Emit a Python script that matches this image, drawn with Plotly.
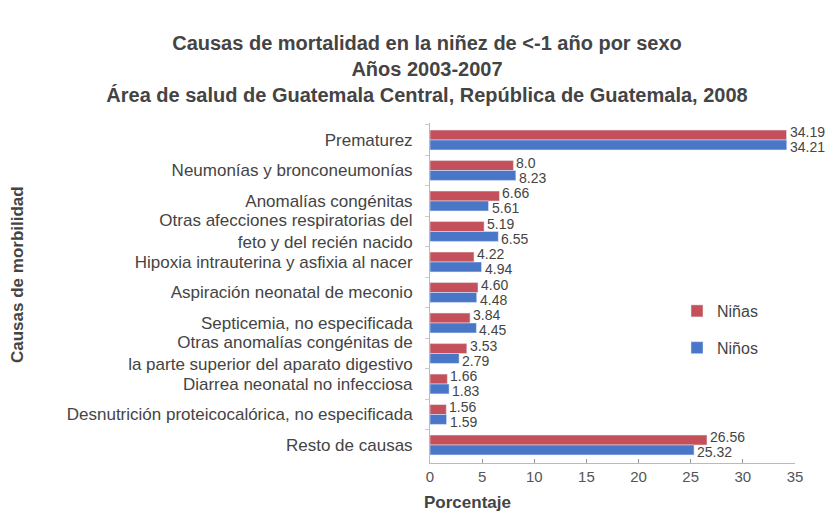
import plotly.graph_objects as go

categorias = [
    "Prematurez",
    "Neumonías y bronconeumonías",
    "Anomalías congénitas",
    "Otras afecciones respiratorias del<br>feto y del recién nacido",
    "Hipoxia intrauterina y asfixia al nacer",
    "Aspiración neonatal de meconio",
    "Septicemia, no especificada",
    "Otras anomalías congénitas de<br>la parte superior del aparato digestivo",
    "Diarrea neonatal no infecciosa",
    "Desnutrición proteicocalórica, no especificada",
    "Resto de causas",
]
ninas = [34.19, 8.0, 6.66, 5.19, 4.22, 4.60, 3.84, 3.53, 1.66, 1.56, 26.56]
ninas_txt = ["34.19", "8.0", "6.66", "5.19", "4.22", "4.60", "3.84", "3.53", "1.66", "1.56", "26.56"]
ninos = [34.21, 8.23, 5.61, 6.55, 4.94, 4.48, 4.45, 2.79, 1.83, 1.59, 25.32]
ninos_txt = ["34.21", "8.23", "5.61", "6.55", "4.94", "4.48", "4.45", "2.79", "1.83", "1.59", "25.32"]
x_ticks = [0, 5, 10, 15, 20, 25, 30, 35]

FONT = "Liberation Sans, Arial, sans-serif"
W, H = 835, 517
L, R, T, B = 430, 40, 123, 54
PW, PH = W - L - R, H - T - B

fig = go.Figure()
fig.add_trace(go.Bar(
    y=categorias, x=ninas, name="Niñas", orientation="h", legendgroup="a",
    marker=dict(color="#c4505c"),
))
fig.add_trace(go.Bar(
    y=categorias, x=ninos, name="Niños", orientation="h", legendgroup="b",
    marker=dict(color="#4a76c8"),
))

# value labels, placed through the axes at each bar's end
for cat, v, t in zip(categorias, ninas, ninas_txt):
    fig.add_annotation(x=v, y=cat, text=t, xref="x", yref="y", showarrow=False,
                       xanchor="left", yanchor="middle", xshift=1, yshift=8,
                       font=dict(size=14, color="#444444", family=FONT))
for cat, v, t in zip(categorias, ninos, ninos_txt):
    fig.add_annotation(x=v, y=cat, text=t, xref="x", yref="y", showarrow=False,
                       xanchor="left", yanchor="middle", xshift=1, yshift=-7,
                       font=dict(size=14, color="#444444", family=FONT))

fig.update_layout(
    width=W, height=H,
    paper_bgcolor="white", plot_bgcolor="white",
    barmode="group", bargap=0.35, bargroupgap=0.0,
    margin=dict(l=L, r=R, t=T, b=B, autoexpand=False),
    font=dict(family=FONT, color="#444444"),
    title=dict(
        text="<b>Causas de mortalidad en la niñez de <-1 año por sexo<br>Años 2003-2007<br>Área de salud de Guatemala Central, República de Guatemala, 2008</b>",
        x=427 / W, xanchor="center", xref="container",
        y=1 - 49.5 / H, yanchor="middle", yref="container",
        font=dict(size=20, color="#444444", family=FONT),
    ),
    showlegend=True,
    legend=dict(
        x=(677 - L) / PW, y=(H - B - 294) / PH, xanchor="left", yanchor="top",
        font=dict(size=16, color="#444444", family=FONT),
        tracegroupgap=13, bgcolor="rgba(0,0,0,0)",
    ),
    xaxis=dict(
        range=[0, 35], tickvals=x_ticks, ticktext=[str(v) for v in x_ticks],
        showgrid=False, zeroline=False, showline=True, linecolor="#bbbbbb",
        ticks="inside", ticklen=4, tickcolor="#999999",
        tickfont=dict(size=15, color="#555555", family=FONT),
    ),
    yaxis=dict(
        autorange="reversed", showgrid=False, zeroline=False,
        showline=True, linecolor="#bbbbbb", ticks="outside", ticklen=4, tickcolor="#cccccc",
        tickson="boundaries", ticklabelstandoff=13,
        tickfont=dict(size=17, color="#444444", family=FONT),
    ),
)

fig.add_annotation(
    text="<b>Porcentaje</b>", xref="paper", yref="paper",
    x=(467 - L) / PW, y=((H - B) - 502) / PH,
    xanchor="center", yanchor="middle",
    showarrow=False, font=dict(size=17, color="#444444", family=FONT),
)
fig.add_annotation(
    text="<b>Causas de morbilidad</b>", xref="paper", yref="paper",
    x=(17 - L) / PW, y=((H - B) - 275) / PH, xanchor="center", yanchor="middle",
    textangle=-90, showarrow=False, font=dict(size=17, color="#444444", family=FONT),
)

fig.write_html("out.html", config={"displayModeBar": False},
               post_script="document.body.style.margin='0px';")
